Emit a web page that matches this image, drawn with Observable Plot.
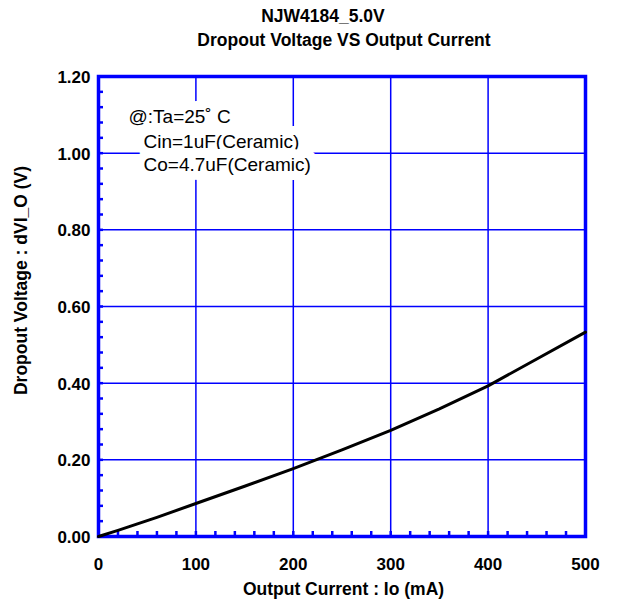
<!DOCTYPE html>
<html>
<head>
<meta charset="utf-8">
<script src="https://cdn.jsdelivr.net/npm/d3@7"></script>
<script src="https://cdn.jsdelivr.net/npm/@observablehq/plot@0.6"></script>
<style>
  body { margin: 0; background: #fff; }
  svg { font-family: "Liberation Sans", Arial, sans-serif; }
</style>
</head>
<body>
<div id="chart"></div>
<script>
const current = [0, 20, 40, 60, 100, 150, 200, 250, 300, 350, 400, 450, 500];
const dropout = [0, 0.016, 0.033, 0.050, 0.086, 0.131, 0.177, 0.226, 0.277, 0.333, 0.393, 0.463, 0.533];
const xTicks = [0, 100, 200, 300, 400, 500];
const yTicks = [0, 0.2, 0.4, 0.6, 0.8, 1.0, 1.2];
const xMinor = d3.range(0, 501, 20);
const yMinor = d3.range(0, 1.2001, 0.04);
const titleLines = ["NJW4184_5.0V", "Dropout Voltage VS Output Current"];
const xLabel = "Output Current : Io (mA)";
const yLabel = "Dropout Voltage : dVI_O (V)";
const noteLines = ["@:Ta=25\u02DA C", "Cin=1uF(Ceramic)", "Co=4.7uF(Ceramic)"];

const data = current.map((c, i) => ({c, v: dropout[i]}));
const blue = "#0000ff";
const font = {fontFamily: "Liberation Sans, Arial, sans-serif"};

const noteOffsets = [{dx: 30, dy: 40}, {dx: 45, dy: 65}, {dx: 45, dy: 88}];

const chart = Plot.plot({
  width: 619,
  height: 600,
  marginLeft: 98,
  marginRight: 34,
  marginTop: 76,
  marginBottom: 64,
  x: {domain: [0, 500], axis: null},
  y: {domain: [0, 1.2], axis: null},
  style: {background: "#fff", fontFamily: "Liberation Sans, Arial, sans-serif"},
  marks: [
    Plot.ruleX(xTicks.slice(1, -1), {x: d => d, stroke: blue, strokeWidth: 1.5}),
    Plot.ruleY(yTicks.slice(1, -1), {y: d => d, stroke: blue, strokeWidth: 1.5}),
    ...noteLines.map((t, i) => Plot.text([t], {
      text: d => d, frameAnchor: "top-left", textAnchor: "start", lineAnchor: "middle",
      dx: noteOffsets[i].dx, dy: noteOffsets[i].dy, fontSize: 19, fill: "#000",
      stroke: "white", strokeWidth: 18, strokeLinejoin: "round", ...font
    })),
    Plot.axisX({ticks: xMinor, tickSize: -5, text: null, stroke: blue, strokeWidth: 2.5, label: null}),
    Plot.axisY({ticks: yMinor, tickSize: -5, text: null, stroke: blue, strokeWidth: 2.5, label: null}),
    Plot.frame({stroke: blue, strokeWidth: 3.5}),
    Plot.line(data, {x: "c", y: "v", stroke: "#000", strokeWidth: 3}),
    Plot.text(xTicks, {x: d => d, text: d => String(d), frameAnchor: "bottom", lineAnchor: "middle", dy: 28, fontSize: 17, fontWeight: "bold", fill: "#000", ...font}),
    Plot.text(yTicks, {y: d => d, text: d => d3.format(".2f")(d), frameAnchor: "left", textAnchor: "end", lineAnchor: "middle", dx: -8, dy: 1, fontSize: 17, fontWeight: "bold", fill: "#000", ...font}),
    Plot.text([titleLines[0]], {text: d => d, frameAnchor: "top", textAnchor: "middle", lineAnchor: "middle", dx: -19, dy: -60, fontSize: 17.5, fontWeight: "bold", fill: "#000", ...font}),
    Plot.text([titleLines[1]], {text: d => d, frameAnchor: "top", textAnchor: "middle", lineAnchor: "middle", dx: 2, dy: -36, fontSize: 17.5, fontWeight: "bold", fill: "#000", ...font}),
    Plot.text([xLabel], {text: d => d, frameAnchor: "bottom", textAnchor: "middle", lineAnchor: "middle", dx: 1.5, dy: 53, fontSize: 17.5, fontWeight: "bold", fill: "#000", ...font}),
    Plot.text([yLabel], {text: d => d, frameAnchor: "left", textAnchor: "middle", lineAnchor: "middle", rotate: -90, dx: -77, dy: -26, fontSize: 17.5, fontWeight: "bold", fill: "#000", ...font})
  ]
});
document.getElementById("chart").appendChild(chart);
</script>
</body>
</html>
